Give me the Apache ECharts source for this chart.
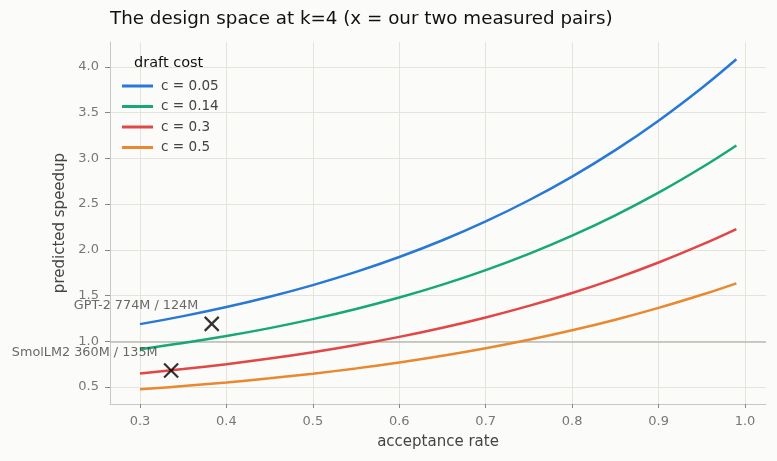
<!DOCTYPE html>
<html><head><meta charset="utf-8">
<script src="https://cdn.jsdelivr.net/npm/echarts@6/dist/echarts.min.js"></script>
<style>html,body{margin:0;padding:0;background:#fbfbf9;}#c{width:777px;height:461px;}</style>
</head><body><div id="c"></div>
<script>
const alphas = [0.30,0.35,0.40,0.45,0.50,0.55,0.60,0.65,0.70,0.75,0.80,0.85,0.90,0.95,0.99];
const seriesNames = ['c = 0.05','c = 0.14','c = 0.3','c = 0.5'];
const colors = ['#2878d6','#17a877','#e24646','#e8882f'];
const s005 = [1.1876,1.2753,1.3747,1.4872,1.6146,1.7587,1.9213,2.1047,2.3109,2.5423,2.8013,3.0905,3.4126,3.7703,4.0842];
const s014 = [0.9135,0.9810,1.0574,1.1440,1.2420,1.3528,1.4779,1.6190,1.7776,1.9556,2.1549,2.3773,2.6251,2.9003,3.1417];
const s030 = [0.6478,0.6956,0.7498,0.8112,0.8807,0.9593,1.0480,1.1480,1.2605,1.3867,1.5280,1.6857,1.8614,2.0565,2.2277];
const s050 = [0.4750,0.5101,0.5499,0.5949,0.6458,0.7035,0.7685,0.8419,0.9244,1.0169,1.1205,1.2362,1.3650,1.5081,1.6337];
const allSeries = [s005,s014,s030,s050];
const pairNames = ['GPT-2 774M / 124M','SmolLM2 360M / 135M'];
const pairX = [0.383,0.336];
const pairY = [1.19,0.68];
const xTicks = [0.3,0.4,0.5,0.6,0.7,0.8,0.9,1.0];
const yTicks = [0.5,1.0,1.5,2.0,2.5,3.0,3.5,4.0];

const chart = echarts.init(document.getElementById('c'));
const font = 'DejaVu Sans';
const lineSeries = allSeries.map((vals,i)=>({
  name: seriesNames[i], type:'line', smooth:0.4, showSymbol:false, symbol:'none',
  data: alphas.map((a,j)=>[a,vals[j]]),
  lineStyle:{color:colors[i],width:2.5}, itemStyle:{color:colors[i]}, z:3,
  markLine: i===0 ? {silent:true,symbol:'none',label:{show:false},
    lineStyle:{color:'#bdbdb5',width:1.5,type:'solid'}, data:[{yAxis:1.0}], z:1} : undefined
}));
chart.setOption({
  backgroundColor:'#fbfbf9',
  animation:false,
  textStyle:{fontFamily:font},
  title:[{text:'The design space at k=4 (x = our two measured pairs)', left:105, top:5,
    textStyle:{fontFamily:font,fontSize:18.3,fontWeight:'normal',color:'#111'}},
    {text:'draft cost', left:129, top:51, textStyle:{fontFamily:font,fontSize:14.5,fontWeight:'normal',color:'#111'}}],
  legend:{data:seriesNames, orient:'vertical', left:117, top:74, itemWidth:31, itemHeight:3, itemGap:6.5,
    icon:'rect', textStyle:{fontFamily:font,fontSize:13.6,color:'#444',padding:[0,0,0,3]}},
  grid:{left:110, right:11, top:42, bottom:57},
  xAxis:{type:'value', min:0.2653, max:1.0243, interval:0.1,
    name:'acceptance rate', nameLocation:'middle', nameGap:31,
    nameTextStyle:{fontFamily:font,fontSize:15,color:'#444'},
    axisLine:{lineStyle:{color:'#c8c8c0'}},
    axisLabel:{fontFamily:font,fontSize:13,color:'#777',margin:11,
      customValues:xTicks, formatter:v=>v.toFixed(1)},
    axisTick:{show:true,length:4,lineStyle:{color:'#888'},customValues:xTicks},
    splitLine:{show:true,lineStyle:{color:'#e4e4dc'}}},
  yAxis:{type:'value', min:0.314, max:4.273,
    name:'predicted speedup', nameLocation:'middle', nameGap:40,
    nameTextStyle:{fontFamily:font,fontSize:15,color:'#444'},
    axisLine:{show:true,lineStyle:{color:'#c8c8c0'}},
    axisLabel:{fontFamily:font,fontSize:13,color:'#777',margin:11,
      customValues:yTicks, formatter:v=>v.toFixed(1)},
    axisTick:{show:true,length:5,lineStyle:{color:'#888'},customValues:yTicks},
    splitLine:{show:true,lineStyle:{color:'#e4e4dc'}}},
  series: lineSeries.concat([{
    type:'scatter', name:'pairs', symbol:'path://M0,0L10,10M10,0L0,10', symbolSize:14,
    itemStyle:{color:'none',borderColor:'#000',borderWidth:2.2},
    data: pairX.map((x,i)=>({value:[x,pairY[i]], label:{show:true, formatter:pairNames[i]}})),
    label:{position:'left', offset:[1,-18], align:'right', fontFamily:font, fontSize:12.8, color:'#444'},
    z:5
  }])
});
</script></body></html>
